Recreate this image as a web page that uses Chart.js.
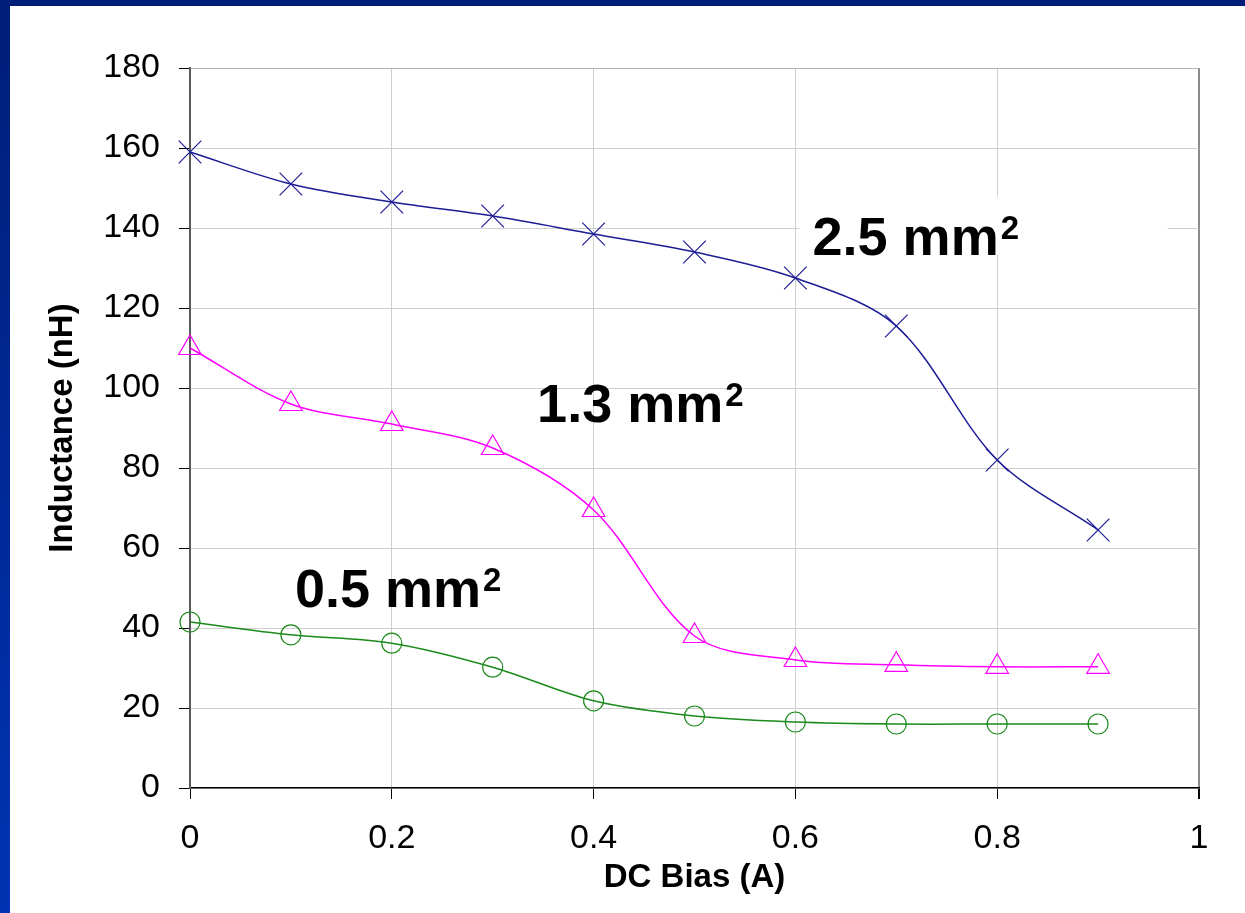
<!DOCTYPE html>
<html lang="en">
<head>
  <meta charset="UTF-8">
  <title>Inductance vs DC Bias</title>
  <script src="https://cdn.jsdelivr.net/npm/chart.js"></script>
  <style>
    html, body { margin: 0; padding: 0; background: #fff; }
    .band-top { position: absolute; left: 0; top: 0; width: 1245px; height: 6px; background: #001e78; }
    .band-left { position: absolute; left: 0; top: 0; width: 10px; height: 913px; background: linear-gradient(#001e78, #0033b3); }
    .wrap { position: absolute; left: 0; top: 0; width: 1245px; height: 913px; }
  </style>
</head>
<body>
  <div class="band-top"></div>
  <div class="band-left"></div>
  <div class="wrap"><canvas id="chart" width="1245" height="913"></canvas></div>

  <script>
    // data
    const biasA = [0, 0.1, 0.2, 0.3, 0.4, 0.5, 0.6, 0.7, 0.8, 0.9];
    const area25 = [159, 151, 146.5, 143, 138.5, 134, 127.5, 115.5, 82, 64.5];
    const area13 = [110, 96, 91, 85, 69.5, 38, 32, 30.8, 30.3, 30.3];
    const area05 = [41.5, 38.3, 36.2, 30.2, 21.8, 18, 16.5, 16, 16, 16];

    const xTicks = [0, 0.2, 0.4, 0.6, 0.8, 1];
    const yTicks = [0, 20, 40, 60, 80, 100, 120, 140, 160, 180];

    // curve labels: text + superscript, x, y (data units, left/baseline of text)
    const curveLabels = [
      { text: '2.5 mm', sup: '2', x: 0.617, y: 133.3, box: true },
      { text: '1.3 mm', sup: '2', x: 0.344, y: 91.6, box: false },
      { text: '0.5 mm', sup: '2', x: 0.104, y: 45.3, box: false }
    ];

    const FONT = '"Liberation Sans", Arial, sans-serif';

    function pts(ys) {
      return biasA.map((x, i) => ({ x: x, y: ys[i] }));
    }

    const labelPlugin = {
      id: 'curveLabels',
      beforeDatasetsDraw(chart) {
        const { ctx, scales } = chart;
        ctx.save();
        curveLabels.forEach(l => {
          if (!l.box) return;
          const px = scales.x.getPixelForValue(l.x);
          const py = scales.y.getPixelForValue(l.y);
          ctx.fillStyle = '#fff';
          ctx.fillRect(px - 13, py - 58, 368, 58);
        });
        ctx.restore();
      },
      afterDatasetsDraw(chart) {
        const { ctx, scales } = chart;
        ctx.save();
        ctx.fillStyle = '#000';
        ctx.textAlign = 'left';
        ctx.textBaseline = 'alphabetic';
        curveLabels.forEach(l => {
          const px = scales.x.getPixelForValue(l.x);
          const py = scales.y.getPixelForValue(l.y);
          ctx.font = 'bold 54px ' + FONT;
          ctx.fillText(l.text, px, py);
          const w = ctx.measureText(l.text).width;
          ctx.font = 'bold 33px ' + FONT;
          ctx.fillText(l.sup, px + w + 2, py - 16);
        });
        ctx.restore();
      }
    };

    const ctx = document.getElementById('chart').getContext('2d');
    new Chart(ctx, {
      type: 'line',
      data: {
        datasets: [
          {
            label: '2.5 mm2',
            data: pts(area25),
            borderColor: '#1c1c96',
            borderWidth: 1.5,
            pointStyle: 'crossRot',
            pointRadius: 16,
            pointBorderColor: '#1c1c96',
            pointBorderWidth: 1.2,
            pointBackgroundColor: 'transparent',
            tension: 0.33,
            fill: false,
            clip: false
          },
          {
            label: '1.3 mm2',
            data: pts(area13),
            borderColor: '#ff00ff',
            borderWidth: 1.5,
            pointStyle: 'triangle',
            pointRadius: 13,
            pointBorderColor: '#ff00ff',
            pointBorderWidth: 1.2,
            pointBackgroundColor: 'transparent',
            tension: 0.33,
            fill: false,
            clip: false
          },
          {
            label: '0.5 mm2',
            data: pts(area05),
            borderColor: '#1a8a1a',
            borderWidth: 1.5,
            pointStyle: 'circle',
            pointRadius: 10,
            pointBorderColor: '#1a8a1a',
            pointBorderWidth: 1.2,
            pointBackgroundColor: 'transparent',
            tension: 0.33,
            fill: false,
            clip: false
          }
        ]
      },
      options: {
        responsive: false,
        animation: false,
        layout: { autoPadding: false, padding: { top: 68, right: 46, bottom: 0, left: 0 } },
        plugins: {
          legend: { display: false },
          tooltip: { enabled: false }
        },
        scales: {
          x: {
            type: 'linear',
            min: 0,
            max: 1,
            afterBuildTicks: axis => { axis.ticks = xTicks.map(v => ({ value: v })); },
            afterFit: axis => { axis.height = 125; },
            ticks: {
              color: '#000',
              font: { family: FONT, size: 34 },
              padding: 19,
              maxRotation: 0,
              callback: v => String(v)
            },
            grid: {
              color: c => (c.tick && c.tick.value === 1 ? '#8c8c8c' : '#cfcfcf'),
              lineWidth: c => (c.tick && c.tick.value === 1 ? 2 : 1),
              tickColor: '#000',
              tickLength: 11
            },
            border: { color: '#000', width: 1.5 },
            title: {
              display: true,
              text: 'DC Bias (A)',
              color: '#000',
              font: { family: FONT, size: 33, weight: 'bold' },
              padding: { top: 0, bottom: 15 }
            }
          },
          y: {
            min: 0,
            max: 180,
            afterBuildTicks: axis => { axis.ticks = yTicks.map(v => ({ value: v })); },
            afterFit: axis => { axis.width = 190; },
            ticks: {
              color: '#000',
              font: { family: FONT, size: 34 },
              padding: 19
            },
            grid: {
              color: c => (c.tick && c.tick.value === 180 ? '#b4b4b4' : '#cfcfcf'),
              tickColor: '#000',
              tickLength: 11
            },
            border: { color: '#5a5a5a', width: 2 },
            title: {
              display: true,
              text: 'Inductance (nH)',
              color: '#000',
              font: { family: FONT, size: 33, weight: 'bold' },
              padding: { top: 43, bottom: 0 }
            }
          }
        }
      },
      plugins: [labelPlugin]
    });
  </script>
</body>
</html>
